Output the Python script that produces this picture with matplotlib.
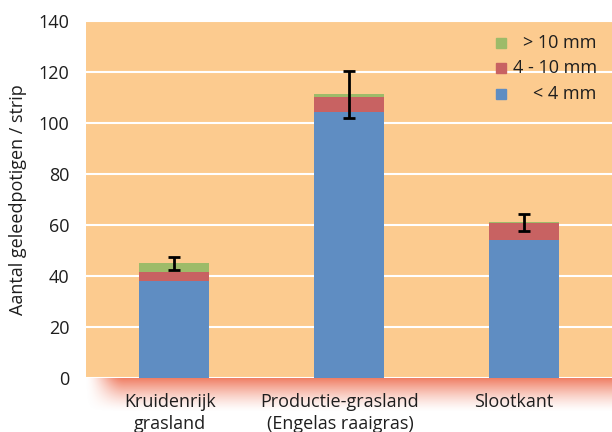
import numpy as np
import matplotlib
matplotlib.use("Agg")
import matplotlib.pyplot as plt
import matplotlib.transforms as mtransforms

plt.rcParams['font.family'] = ['Open Sans', 'DejaVu Sans']

# data
categories = ['Kruidenrijk\ngrasland', 'Productie-grasland\n(Engelas raaigras)', 'Slootkant']
small = [38, 104.3, 54]        # < 4 mm
medium = [3.7, 6.0, 6.7]       # 4 - 10 mm
large = [3.3, 0.9, 0.3]        # > 10 mm
err = [2.5, 9.2, 3.3]
legend_labels = ['> 10 mm', '4 - 10 mm', '< 4 mm']

col_small = '#5f8dc2'
col_medium = '#c86262'
col_large = '#9dbb69'
bg = '#fccb8f'
txt = '#1e1e1e'

fig = plt.figure(figsize=(6.12, 4.32), dpi=100)

# reddish glow under the plot area (soft shadow with rounded left corner)
glow = fig.add_axes([84/612, (432-412)/432, 528/612, 34/432])
h, w = 68, 528
yy = np.linspace(0, 1, h)[:, None]
xx = np.arange(w)[None, :]
fy = np.clip(1 - yy, 0, 1) ** 1.4
gx = np.clip(xx / 40.0, 0, 1)
gx = gx * gx * (3 - 2 * gx)
alpha = fy * gx
img = np.zeros((h, w, 4))
img[..., 0] = 0.94
img[..., 1] = 0.47
img[..., 2] = 0.36
img[..., 3] = np.clip(alpha, 0, 1) * 0.95
glow.imshow(img, aspect='auto', extent=[0, 1, 0, 1], origin='upper')
glow.axis('off')

ax = fig.add_axes([86/612, 54/432, 526/612, 357/432])
ax.set_facecolor(bg)
for s in ax.spines.values():
    s.set_visible(False)

x = np.arange(len(categories))
small = np.array(small)
medium = np.array(medium)
large = np.array(large)
width = 0.4

ax.bar(x, small, width, color=col_small, zorder=3)
ax.bar(x, medium, width, bottom=small, color=col_medium, zorder=3)
ax.bar(x, large, width, bottom=small + medium, color=col_large, zorder=3)
ax.errorbar(x, small + medium + large, yerr=err, fmt='none', ecolor='black',
            elinewidth=2, capsize=4.5, capthick=2, zorder=4)

ax.set_xlim(-0.5, 2.5)
ax.set_ylim(0, 140)
ax.set_yticks(range(0, 141, 20))
ax.yaxis.grid(True, color='white', linewidth=1.5, zorder=1)
ax.set_axisbelow(True)
ax.tick_params(axis='both', length=0, labelsize=13, colors=txt)
ax.tick_params(axis='y', pad=12)
ax.tick_params(axis='x', pad=11)
ax.set_xticks(x)
ax.set_xticklabels(categories, linespacing=1.25)
shifts = [-4, -9, -11]
for lab, dx in zip(ax.get_xticklabels(), shifts):
    lab.set_transform(lab.get_transform() +
                      mtransforms.ScaledTranslation(dx / 100, 0, fig.dpi_scale_trans))

ax.set_ylabel('Aantal geleedpotigen / strip', fontsize=13, color=txt, labelpad=8)

# legend, text right aligned as in the original
leg_cols = [col_large, col_medium, col_small]
leg_y = [0.939, 0.868, 0.796]
for lbl, c, yv in zip(legend_labels, leg_cols, leg_y):
    ax.plot([0.789], [yv], marker='s', markersize=7, color=c,
            transform=ax.transAxes, clip_on=False, zorder=5)
    ax.text(0.971, yv, lbl, transform=ax.transAxes, ha='right', va='center',
            fontsize=13, color=txt, zorder=5)

fig.savefig('out.png', dpi=100)
